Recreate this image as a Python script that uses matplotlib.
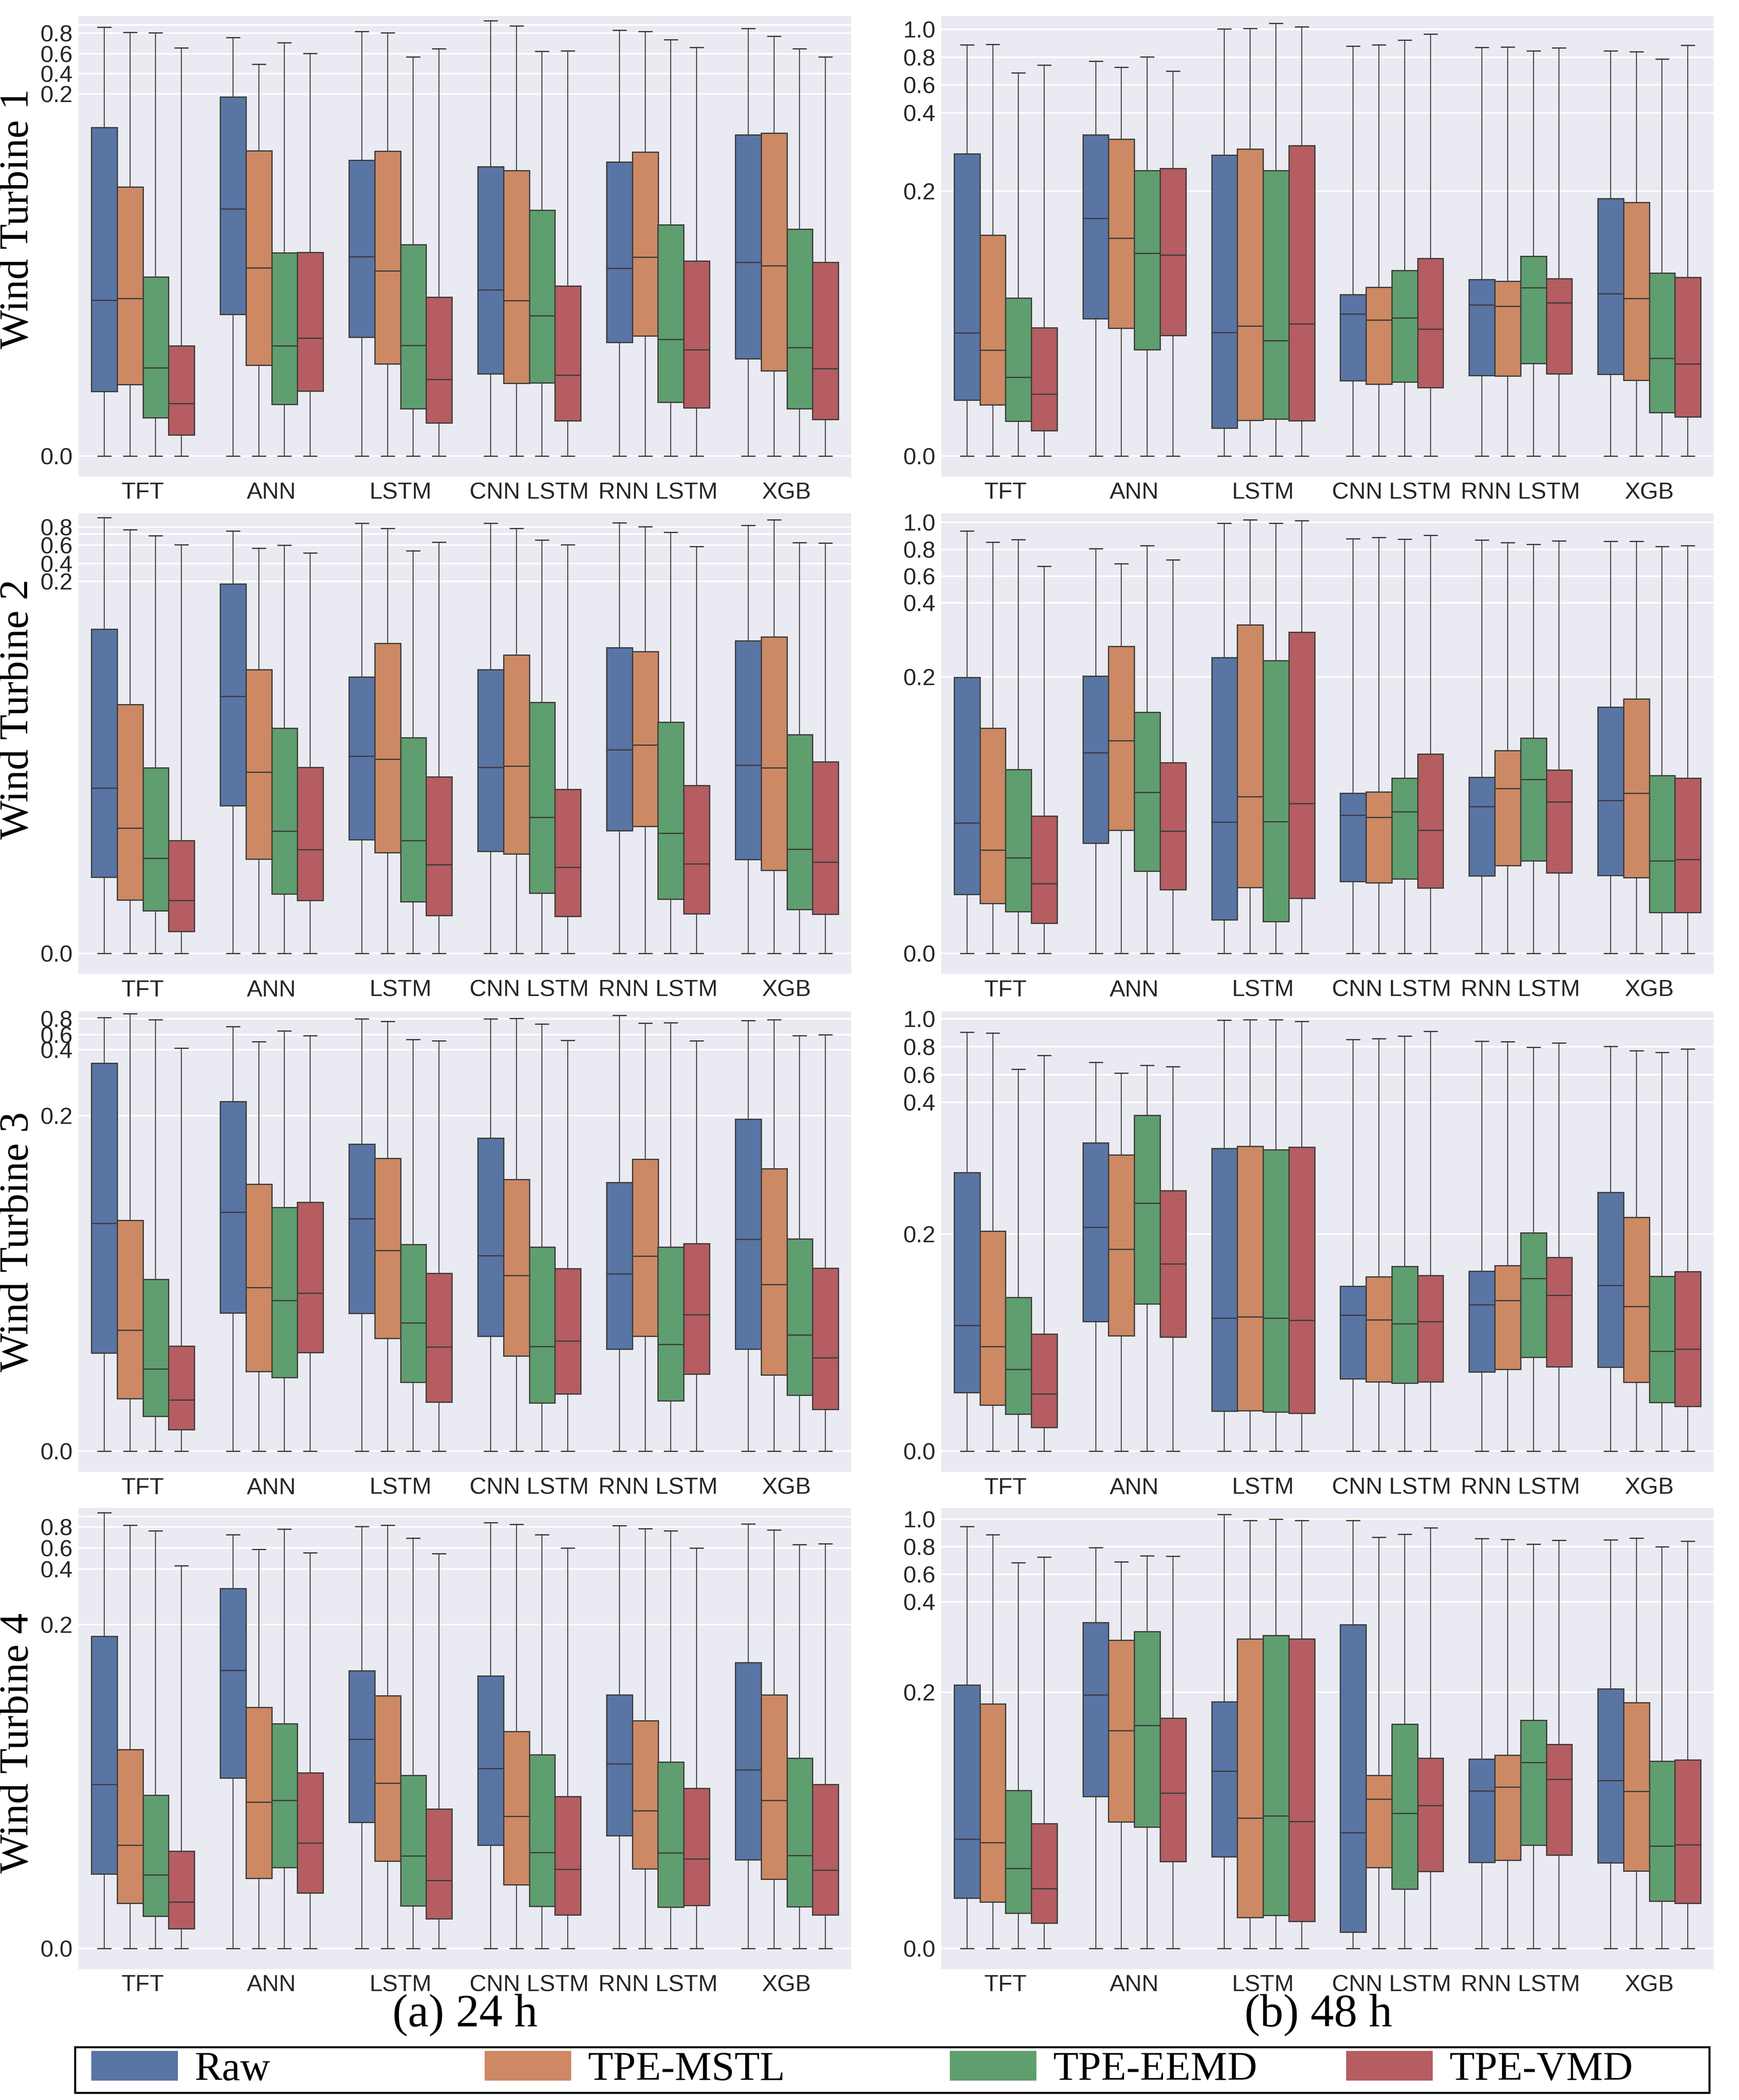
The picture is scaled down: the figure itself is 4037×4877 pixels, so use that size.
import numpy as np
import matplotlib
matplotlib.use('Agg')
import matplotlib.pyplot as plt
from matplotlib.patches import Patch, Rectangle

models = ['TFT', 'ANN', 'LSTM', 'CNN LSTM', 'RNN LSTM', 'XGB']
methods = ['Raw', 'TPE-MSTL', 'TPE-EEMD', 'TPE-VMD']
colors = ['#5875a4', '#cc8963', '#5f9e6e', '#b55d60']

# box statistics, one row per model, one column per method (lower whisker is 0 everywhere)
# ---- 24 h ----
q3_24_wt1 = [[0.1815, 0.1486, 0.0991, 0.0610], [0.1984, 0.1686, 0.1124, 0.1125], [0.1634, 0.1685, 0.1169, 0.0878],
             [0.1598, 0.1578, 0.1359, 0.0941], [0.1624, 0.1678, 0.1277, 0.1077], [0.1775, 0.1784, 0.1253, 0.1070]]
med_24_wt1 = [[0.0861, 0.0871, 0.0488, 0.0291], [0.1366, 0.1040, 0.0610, 0.0652], [0.1101, 0.1023, 0.0613, 0.0423],
              [0.0918, 0.0859, 0.0775, 0.0449], [0.1038, 0.1098, 0.0645, 0.0589], [0.1070, 0.1051, 0.0599, 0.0484]]
q1_24_wt1 = [[0.0357, 0.0395, 0.0213, 0.0118], [0.0782, 0.0503, 0.0287, 0.0359], [0.0657, 0.0510, 0.0263, 0.0183],
             [0.0456, 0.0402, 0.0404, 0.0195], [0.0629, 0.0664, 0.0298, 0.0267], [0.0537, 0.0472, 0.0263, 0.0204]]
max_24_wt1 = [[0.862, 0.809, 0.806, 0.658], [0.760, 0.495, 0.708, 0.606], [0.818, 0.806, 0.571, 0.652],
              [0.923, 0.874, 0.625, 0.628], [0.831, 0.818, 0.738, 0.662], [0.849, 0.772, 0.649, 0.571]]

q3_24_wt2 = [[0.1742, 0.1338, 0.0997, 0.0606], [0.1985, 0.1525, 0.1211, 0.1001], [0.1486, 0.1666, 0.1159, 0.0948],
             [0.1525, 0.1603, 0.1350, 0.0882], [0.1642, 0.1623, 0.1243, 0.0902], [0.1679, 0.1700, 0.1176, 0.1030]]
med_24_wt2 = [[0.0889, 0.0673, 0.0512, 0.0285], [0.1381, 0.0975, 0.0658, 0.0558], [0.1060, 0.1045, 0.0606, 0.0477],
              [0.0999, 0.1008, 0.0731, 0.0463], [0.1094, 0.1121, 0.0646, 0.0482], [0.1011, 0.0997, 0.0561, 0.0490]]
q1_24_wt2 = [[0.0411, 0.0288, 0.0229, 0.0119], [0.0794, 0.0507, 0.0319, 0.0285], [0.0611, 0.0543, 0.0278, 0.0204],
             [0.0550, 0.0534, 0.0324, 0.0200], [0.0660, 0.0682, 0.0292, 0.0214], [0.0504, 0.0448, 0.0236, 0.0210]]
max_24_wt2 = [[0.903, 0.772, 0.703, 0.603], [0.755, 0.566, 0.600, 0.514], [0.838, 0.783, 0.538, 0.631],
              [0.841, 0.783, 0.655, 0.603], [0.845, 0.803, 0.741, 0.586], [0.817, 0.876, 0.628, 0.624]]

q3_24_wt3 = [[0.3596, 0.1377, 0.1024, 0.0627], [0.2433, 0.1591, 0.1454, 0.1484], [0.1832, 0.1746, 0.1234, 0.1062],
             [0.1868, 0.1621, 0.1218, 0.1090], [0.1603, 0.1740, 0.1217, 0.1237], [0.1981, 0.1685, 0.1266, 0.1092]]
med_24_wt3 = [[0.1358, 0.0721, 0.0492, 0.0305], [0.1426, 0.0976, 0.0898, 0.0944], [0.1388, 0.1196, 0.0766, 0.0621],
              [0.1166, 0.1049, 0.0625, 0.0659], [0.1058, 0.1164, 0.0638, 0.0815], [0.1264, 0.0994, 0.0693, 0.0559]]
q1_24_wt3 = [[0.0586, 0.0314, 0.0209, 0.0128], [0.0825, 0.0476, 0.0439, 0.0588], [0.0821, 0.0674, 0.0412, 0.0294],
             [0.0685, 0.0569, 0.0288, 0.0341], [0.0608, 0.0687, 0.0301, 0.0460], [0.0610, 0.0456, 0.0335, 0.0249]]
max_24_wt3 = [[0.816, 0.864, 0.788, 0.424], [0.700, 0.510, 0.644, 0.584], [0.800, 0.768, 0.539, 0.522],
              [0.800, 0.804, 0.732, 0.527], [0.844, 0.744, 0.748, 0.518], [0.776, 0.788, 0.584, 0.596]]

q3_24_wt4 = [[0.1926, 0.1227, 0.0946, 0.0601], [0.3303, 0.1489, 0.1387, 0.1085], [0.1715, 0.1561, 0.1067, 0.0862],
             [0.1682, 0.1340, 0.1196, 0.0939], [0.1565, 0.1405, 0.1151, 0.0989], [0.1764, 0.1565, 0.1175, 0.1013]]
med_24_wt4 = [[0.1013, 0.0638, 0.0453, 0.0287], [0.1717, 0.0903, 0.0915, 0.0650], [0.1292, 0.1019, 0.0570, 0.0418],
              [0.1112, 0.0816, 0.0591, 0.0488], [0.1140, 0.0851, 0.0589, 0.0552], [0.1104, 0.0915, 0.0574, 0.0484]]
q1_24_wt4 = [[0.0460, 0.0277, 0.0199, 0.0121], [0.1052, 0.0433, 0.0500, 0.0341], [0.0777, 0.0540, 0.0261, 0.0183],
             [0.0638, 0.0392, 0.0260, 0.0207], [0.0695, 0.0490, 0.0254, 0.0265], [0.0548, 0.0427, 0.0258, 0.0207]]
max_24_wt4 = [[0.934, 0.818, 0.764, 0.433], [0.725, 0.588, 0.779, 0.555], [0.806, 0.815, 0.693, 0.546],
              [0.839, 0.824, 0.728, 0.600], [0.812, 0.782, 0.764, 0.600], [0.827, 0.773, 0.633, 0.642]]

# ---- 48 h ----
q3_48_wt1 = [[0.2952, 0.1669, 0.1193, 0.0969], [0.3435, 0.3331, 0.2524, 0.2581], [0.2919, 0.3081, 0.2524, 0.3169],
             [0.1221, 0.1276, 0.1400, 0.1493], [0.1333, 0.1319, 0.1510, 0.1340], [0.1943, 0.1914, 0.1381, 0.1350]]
med_48_wt1 = [[0.0929, 0.0800, 0.0595, 0.0469], [0.1795, 0.1645, 0.1531, 0.1519], [0.0933, 0.0983, 0.0871, 0.1000],
              [0.1074, 0.1029, 0.1045, 0.0960], [0.1140, 0.1131, 0.1271, 0.1157], [0.1226, 0.1190, 0.0738, 0.0698]]
q1_48_wt1 = [[0.0424, 0.0388, 0.0264, 0.0193], [0.1036, 0.0967, 0.0802, 0.0910], [0.0212, 0.0271, 0.0281, 0.0269],
             [0.0569, 0.0543, 0.0560, 0.0519], [0.0610, 0.0607, 0.0700, 0.0621], [0.0617, 0.0574, 0.0329, 0.0298]]
max_48_wt1 = [[0.890, 0.892, 0.687, 0.743], [0.772, 0.729, 0.804, 0.701], [1.002, 1.007, 1.043, 1.018],
              [0.879, 0.888, 0.924, 0.966], [0.872, 0.874, 0.847, 0.867], [0.847, 0.840, 0.786, 0.885]]

q3_48_wt2 = [[0.1995, 0.1628, 0.1331, 0.0995], [0.2027, 0.2817, 0.1744, 0.1381], [0.2519, 0.3404, 0.2434, 0.3200],
             [0.1158, 0.1167, 0.1267, 0.1441], [0.1274, 0.1466, 0.1557, 0.1326], [0.1781, 0.1840, 0.1288, 0.1269]]
med_48_wt2 = [[0.0945, 0.0749, 0.0692, 0.0505], [0.1452, 0.1539, 0.1164, 0.0884], [0.0950, 0.1135, 0.0954, 0.1084],
              [0.1000, 0.0986, 0.1025, 0.0890], [0.1062, 0.1194, 0.1260, 0.1098], [0.1107, 0.1160, 0.0671, 0.0680]]
q1_48_wt2 = [[0.0427, 0.0361, 0.0304, 0.0219], [0.0797, 0.0890, 0.0596, 0.0461], [0.0244, 0.0477, 0.0231, 0.0400],
             [0.0521, 0.0511, 0.0539, 0.0473], [0.0562, 0.0635, 0.0671, 0.0582], [0.0564, 0.0550, 0.0297, 0.0297]]
max_48_wt2 = [[0.936, 0.852, 0.873, 0.673], [0.805, 0.694, 0.826, 0.722], [0.993, 1.019, 0.993, 1.014],
              [0.880, 0.887, 0.875, 0.906], [0.868, 0.849, 0.838, 0.864], [0.861, 0.859, 0.821, 0.826]]

q3_48_wt3 = [[0.2935, 0.2047, 0.1418, 0.1080], [0.3386, 0.3204, 0.3803, 0.2662], [0.3300, 0.3333, 0.3285, 0.3324],
             [0.1520, 0.1610, 0.1703, 0.1622], [0.1659, 0.1712, 0.2024, 0.1787], [0.2633, 0.2254, 0.1613, 0.1654]]
med_48_wt3 = [[0.1159, 0.0967, 0.0754, 0.0530], [0.2105, 0.1863, 0.2475, 0.1729], [0.1226, 0.1240, 0.1226, 0.1208],
              [0.1255, 0.1211, 0.1176, 0.1194], [0.1351, 0.1389, 0.1592, 0.1438], [0.1528, 0.1336, 0.0923, 0.0940]]
q1_48_wt3 = [[0.0539, 0.0425, 0.0341, 0.0218], [0.1194, 0.1066, 0.1357, 0.1051], [0.0370, 0.0376, 0.0364, 0.0349],
             [0.0667, 0.0640, 0.0629, 0.0640], [0.0731, 0.0757, 0.0868, 0.0780], [0.0777, 0.0635, 0.0448, 0.0413]]
max_48_wt3 = [[0.906, 0.899, 0.639, 0.739], [0.689, 0.611, 0.666, 0.659], [0.989, 0.993, 0.993, 0.982],
              [0.854, 0.858, 0.876, 0.912], [0.840, 0.836, 0.798, 0.829], [0.804, 0.773, 0.761, 0.784]]

q3_48_wt4 = [[0.2167, 0.1911, 0.1235, 0.0975], [0.3547, 0.3150, 0.3345, 0.1798], [0.1928, 0.3178, 0.3261, 0.3178],
             [0.3498, 0.1353, 0.1751, 0.1486], [0.1481, 0.1511, 0.1783, 0.1595], [0.2077, 0.1919, 0.1464, 0.1474]]
med_48_wt4 = [[0.0852, 0.0825, 0.0625, 0.0467], [0.1980, 0.1701, 0.1743, 0.1215], [0.1385, 0.1020, 0.1037, 0.0990],
              [0.0904, 0.1168, 0.1054, 0.1116], [0.1232, 0.1262, 0.1452, 0.1321], [0.1311, 0.1227, 0.0800, 0.0810]]
q1_48_wt4 = [[0.0393, 0.0363, 0.0274, 0.0198], [0.1188, 0.0988, 0.0948, 0.0679], [0.0714, 0.0240, 0.0259, 0.0212],
             [0.0126, 0.0630, 0.0462, 0.0602], [0.0672, 0.0689, 0.0807, 0.0728], [0.0669, 0.0605, 0.0368, 0.0351]]
max_48_wt4 = [[0.947, 0.885, 0.684, 0.723], [0.791, 0.691, 0.732, 0.730], [1.032, 0.991, 0.998, 0.991],
              [0.991, 0.867, 0.890, 0.936], [0.857, 0.853, 0.818, 0.844], [0.848, 0.862, 0.800, 0.839]]

# tick values of the stretched y axis and where each one sits (axes fraction)
ticks_24 = [0.0, 0.2, 0.4, 0.6, 0.8]
ticks_48 = [0.0, 0.2, 0.4, 0.6, 0.8, 1.0]
tickpos_24 = [[0.0445, 0.8308, 0.8747, 0.9178, 0.9623],
              [0.0446, 0.8526, 0.8910, 0.9308, 0.9705],
              [0.0446, 0.7735, 0.9163, 0.9499, 0.9842],
              [0.0452, 0.7473, 0.8671, 0.9130, 0.9589]]
tickpos_48 = [[0.0445, 0.6199, 0.7897, 0.8507, 0.9103, 0.9712],
              [0.0446, 0.6450, 0.8060, 0.8636, 0.9219, 0.9801],
              [0.0446, 0.5161, 0.8023, 0.8627, 0.9231, 0.9842],
              [0.0452, 0.6000, 0.7966, 0.8562, 0.9164, 0.9760]]
extra_grid_24 = [0.883, 0.724, None, 0.896]

stats_24 = [(q1_24_wt1, med_24_wt1, q3_24_wt1, max_24_wt1), (q1_24_wt2, med_24_wt2, q3_24_wt2, max_24_wt2),
            (q1_24_wt3, med_24_wt3, q3_24_wt3, max_24_wt3), (q1_24_wt4, med_24_wt4, q3_24_wt4, max_24_wt4)]
stats_48 = [(q1_48_wt1, med_48_wt1, q3_48_wt1, max_48_wt1), (q1_48_wt2, med_48_wt2, q3_48_wt2, max_48_wt2),
            (q1_48_wt3, med_48_wt3, q3_48_wt3, max_48_wt3), (q1_48_wt4, med_48_wt4, q3_48_wt4, max_48_wt4)]


def piecewise(xs, ys):
    xs = np.asarray(xs, float)
    ys = np.asarray(ys, float)
    lo = (ys[1] - ys[0]) / (xs[1] - xs[0])
    hi = (ys[-1] - ys[-2]) / (xs[-1] - xs[-2])

    def f(v):
        v = np.asarray(v, float)
        out = np.interp(v, xs, ys)
        out = np.where(v < xs[0], ys[0] + (v - xs[0]) * lo, out)
        out = np.where(v > xs[-1], ys[-1] + (v - xs[-1]) * hi, out)
        return out
    return f


W, H = 4037, 4877
fig = plt.figure(figsize=(W / 300, H / 300), dpi=300)

sans = ['Liberation Sans', 'DejaVu Sans']
serif = ['Liberation Serif', 'DejaVu Serif']
edge = '#3d3d3d'

# axes rectangles in pixels
cols_px = [(182, 1976), (2185, 3978)]
rows_px = [(37, 1107), (1192, 2262), (2349, 3418), (3502, 4573)]
ylabel_y = [0.56, 0.575, 0.50, 0.49]


def draw_panel(ax, stats, ticks, tickpos, extra):
    q1, med, q3, mx = stats
    fwd = piecewise(ticks, tickpos)
    inv = piecewise(tickpos, ticks)
    ax.set_yscale('function', functions=(fwd, inv))
    ax.set_facecolor('#eaeaf2')
    for s in ax.spines.values():
        s.set_visible(False)
    for j in range(len(methods)):
        bstats = []
        for i in range(len(models)):
            bstats.append({'whislo': 0.0, 'q1': q1[i][j], 'med': med[i][j],
                           'q3': q3[i][j], 'whishi': mx[i][j], 'fliers': []})
        pos = [i + (j - 1.5) * 0.2 for i in range(len(models))]
        ax.bxp(bstats, positions=pos, widths=0.2, patch_artist=True, showfliers=False,
               manage_ticks=False,
               boxprops=dict(facecolor=colors[j], edgecolor=edge, linewidth=0.7),
               medianprops=dict(color=edge, linewidth=0.7),
               whiskerprops=dict(color=edge, linewidth=0.55),
               capprops=dict(color=edge, linewidth=0.7))
    ax.set_xlim(-0.5, len(models) - 0.5)
    ax.set_ylim(float(inv(0.0)), float(inv(1.0)))
    ax.set_xticks(range(len(models)))
    ax.set_xticklabels(models, family=sans, fontsize=13, color='#262626')
    ax.set_yticks(ticks)
    ax.set_yticklabels(['%.1f' % t for t in ticks], family=sans, fontsize=13, color='#262626')
    if extra is not None:
        ax.set_yticks([extra], minor=True)
        ax.tick_params(axis='y', which='minor', length=0, labelleft=False)
    ax.tick_params(length=0, pad=3)
    ax.grid(axis='y', which='both', color='white', linewidth=0.9)
    ax.set_axisbelow(True)


for r in range(4):
    top, bot = rows_px[r]
    for c in range(2):
        x0, x1 = cols_px[c]
        ax = fig.add_axes([x0 / W, 1 - bot / H, (x1 - x0) / W, (bot - top) / H])
        if c == 0:
            draw_panel(ax, stats_24[r], ticks_24, tickpos_24[r], extra_grid_24[r])
            fig.text(42 / W, 1 - (bot - ylabel_y[r] * (bot - top)) / H, 'Wind Turbine %d' % (r + 1),
                     rotation=90, ha='center', va='center', family=serif, fontsize=23)
        else:
            draw_panel(ax, stats_48[r], ticks_48, tickpos_48[r], None)

fig.text(1079 / W, 1 - 4680 / H, '(a) 24 h', ha='center', va='center', family=serif, fontsize=26)
fig.text(3060 / W, 1 - 4680 / H, '(b) 48 h', ha='center', va='center', family=serif, fontsize=26)

# legend: black frame with the four entries placed along it
fig.add_artist(Rectangle((174 / W, 1 - 4860 / H), (3968 - 174) / W, 106 / H, transform=fig.transFigure,
                         fill=False, edgecolor='black', linewidth=1.1))
entry_x = [212, 1125, 2205, 3125]
for j in range(len(methods)):
    fig.legend(handles=[Patch(facecolor=colors[j], edgecolor='none', label=methods[j])],
               loc='center left', bbox_to_anchor=(entry_x[j] / W, 1 - 4807 / H),
               prop={'family': serif, 'size': 23}, frameon=False,
               handlelength=2.1, handleheight=0.72, handletextpad=0.4,
               borderpad=0, borderaxespad=0)

fig.savefig('out.png', dpi=300)
